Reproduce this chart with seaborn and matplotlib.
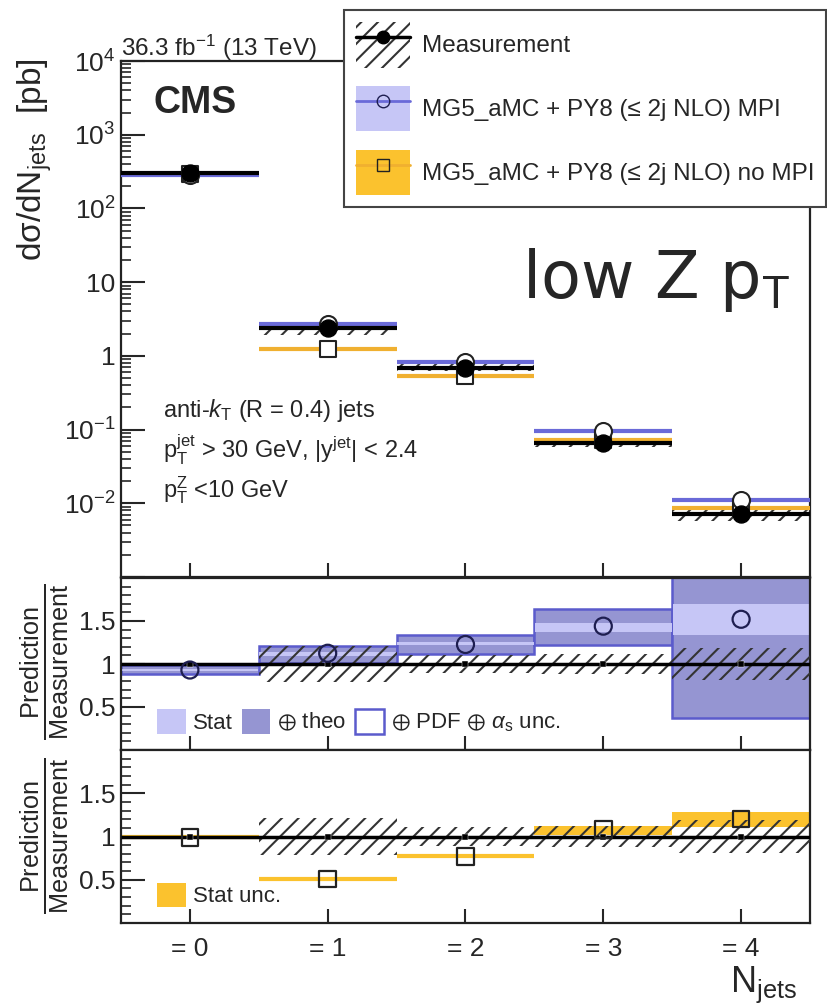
import numpy as np
import pandas as pd
import matplotlib
matplotlib.use("Agg")
import matplotlib.pyplot as plt
import seaborn as sns
from matplotlib.patches import Patch
from matplotlib.lines import Line2D
from matplotlib.legend_handler import HandlerTuple
from matplotlib.ticker import FixedLocator, MultipleLocator, LogLocator, NullFormatter, FuncFormatter

# ---------------- data ----------------
njets = [0, 1, 2, 3, 4]
njet_labels = ["= 0", "= 1", "= 2", "= 3", "= 4"]
meas = [300, 2.4, 0.69, 0.066, 0.0072]
mpi = [280, 2.68, 0.83, 0.095, 0.0110]
nompi = [294, 1.24, 0.53, 0.072, 0.0086]
meas_rel_unc = [0.01, 0.21, 0.11, 0.12, 0.19]

mpi_ratio = [0.93, 1.125, 1.227, 1.44, 1.52]
mpi_stat_lo = [0.915, 1.098, 1.216, 1.373, 1.341]
mpi_stat_hi = [0.945, 1.137, 1.255, 1.478, 1.694]
mpi_tot_lo = [0.88, 1.01, 1.118, 1.216, 0.373]
mpi_tot_hi = [0.99, 1.215, 1.333, 1.635, 2.05]

nompi_ratio = [0.99, 0.51, 0.77, 1.08, 1.20]
nompi_stat_lo = [0.982, 0.502, 0.760, 1.02, 1.11]
nompi_stat_hi = [0.998, 0.522, 0.782, 1.12, 1.286]

# ---------------- style ----------------
sns.set_theme(style="ticks")
plt.rcParams["font.family"] = ["Liberation Sans", "DejaVu Sans"]
plt.rcParams["mathtext.fontset"] = "custom"
plt.rcParams["mathtext.rm"] = "Liberation Sans"
plt.rcParams["mathtext.it"] = "Liberation Sans:italic"
plt.rcParams["mathtext.bf"] = "Liberation Sans:bold"
plt.rcParams["mathtext.fallback"] = "stixsans"
plt.rcParams["hatch.linewidth"] = 1.5
plt.rcParams["hatch.color"] = "#333333"

C_LIGHT = "#c6c6f6"
C_DARK = "#9595d2"
C_EDGE = "#5b5bcc"
C_BLUE_LINE = "#6a6ad8"
C_ORANGE = "#fbc22e"
C_ORANGE_LINE = "#f0b030"
HATCH = "//"

df = pd.DataFrame({
    "njets": njets, "meas": meas, "mpi": mpi, "nompi": nompi,
    "mpi_ratio": mpi_ratio, "nompi_ratio": nompi_ratio,
    "one": [1.0] * len(njets),
})
x = np.array(njets, dtype=float)

W, H = 828, 1006
fig = plt.figure(figsize=(W / 100, H / 100), dpi=100)
left = 121 / W
width = (810 - 121) / W
ax = fig.add_axes([left, 1 - 577 / H, width, (577 - 61) / H])
r1 = fig.add_axes([left, 1 - 750 / H, width, (750 - 578) / H])
r2 = fig.add_axes([left, 1 - 923 / H, width, (923 - 750) / H])

for a in (ax, r1, r2):
    a.set_xlim(-0.5, 4.5)
    for s in a.spines.values():
        s.set_linewidth(1.6)
        s.set_color("#222222")
    a.set_xticks(njets)
    a.tick_params(axis="x", which="major", direction="in", length=10, width=1.5, top=False)
    a.tick_params(axis="y", which="major", direction="in", length=17, width=1.5, right=False,
                  labelsize=19, pad=4)
    a.tick_params(axis="y", which="minor", direction="in", length=7, width=1.2, right=False)
    a.set_xlabel("")
    a.set_ylabel("")

# ---------------- main panel ----------------
ax.set_yscale("log")
ax.set_ylim(1e-3, 1e4)
ax.yaxis.set_major_locator(LogLocator(base=10, numticks=20))
ax.yaxis.set_minor_locator(LogLocator(base=10, subs=np.arange(2, 10), numticks=100))
ax.yaxis.set_minor_formatter(NullFormatter())


def logfmt(v, pos):
    if v < 5e-3:
        return ""
    e = int(round(np.log10(v)))
    if e == 0:
        return "1"
    if e == 1:
        return "10"
    return r"$10^{%d}$" % e


ax.yaxis.set_major_formatter(FuncFormatter(logfmt))
ax.tick_params(axis="x", labelbottom=False)

meas_a = np.array(meas)
u = np.array(meas_rel_unc)
ax.bar(x, 2 * u * meas_a, bottom=meas_a * (1 - u), width=1.0, fill=False, hatch=HATCH,
       linewidth=0, edgecolor="#333333", zorder=2)
mpi_a = np.array(mpi)
ax.bar(x, 0.06 * mpi_a, bottom=mpi_a * 0.97, width=1.0, color=C_LIGHT, linewidth=0, zorder=1)
nompi_a = np.array(nompi)
ax.bar(x, 0.06 * nompi_a, bottom=nompi_a * 0.97, width=1.0, color=C_ORANGE, linewidth=0, zorder=1)
ax.hlines(nompi, x - 0.5, x + 0.5, color=C_ORANGE_LINE, lw=3, zorder=3)
ax.hlines(mpi, x - 0.5, x + 0.5, color=C_BLUE_LINE, lw=3, zorder=3)
ax.hlines(meas, x - 0.5, x + 0.5, color="black", lw=3, zorder=4)
sns.scatterplot(data=df, x="njets", y="nompi", ax=ax, marker="s", s=140, facecolor="white",
                edgecolor="#222222", linewidth=1.5, zorder=5, legend=False)
sns.scatterplot(data=df, x="njets", y="mpi", ax=ax, marker="o", s=150, facecolor="white",
                edgecolor="#222222", linewidth=1.5, zorder=6, legend=False)
sns.scatterplot(data=df, x="njets", y="meas", ax=ax, marker="o", s=150, color="black",
                edgecolor="black", zorder=7, legend=False)
ax.set_xlabel("")
ax.set_ylabel("")

# ---------------- ratio panel 1 (MPI) ----------------
def ratio_axis(a):
    a.set_ylim(0, 2)
    a.yaxis.set_major_locator(FixedLocator([0.5, 1.0, 1.5]))
    a.yaxis.set_major_formatter(FuncFormatter(lambda v, p: "%g" % v))
    a.yaxis.set_minor_locator(MultipleLocator(0.1))


ratio_axis(r1)
r1.tick_params(axis="x", labelbottom=False)
tot_lo = np.array(mpi_tot_lo)
tot_hi = np.array(mpi_tot_hi)
r1.bar(x, tot_hi - tot_lo, bottom=tot_lo, width=1.0, color=C_DARK, edgecolor=C_EDGE,
       linewidth=1.8, zorder=1)
st_lo = np.array(mpi_stat_lo)
st_hi = np.array(mpi_stat_hi)
r1.bar(x, st_hi - st_lo, bottom=st_lo, width=0.99, color=C_LIGHT, linewidth=0, zorder=2)
r1.bar(x, 2 * u, bottom=1 - u, width=1.0, fill=False, hatch=HATCH, linewidth=0,
       edgecolor="#333333", zorder=3)
r1.hlines(1, -0.5, 4.5, color="black", lw=2.5, zorder=4)
sns.scatterplot(data=df, x="njets", y="one", ax=r1, marker="s", s=14, color="black",
                zorder=5, legend=False)
sns.scatterplot(data=df, x="njets", y="mpi_ratio", ax=r1, marker="o", s=150, facecolor="none",
                edgecolor="#1e1e50", linewidth=1.6, zorder=6, legend=False)
r1.set_xlabel("")
r1.set_ylabel("")
h_stat = Patch(facecolor=C_LIGHT, edgecolor="none")
h_theo = Patch(facecolor=C_DARK, edgecolor="none")
h_pdf = Patch(facecolor="white", edgecolor=C_EDGE, linewidth=1.8)
r1.legend([h_stat, h_theo, h_pdf],
          ["Stat", r"$\oplus$ theo", r"$\oplus$ PDF $\oplus$ $\alpha_{\rm s}$ unc."],
          loc="lower left", bbox_to_anchor=(0.03, 0.0), ncol=3, frameon=False, fontsize=16,
          handlelength=1.3, handleheight=1.3, columnspacing=0.4, handletextpad=0.3,
          borderaxespad=0.3)

# ---------------- ratio panel 2 (no MPI) ----------------
ratio_axis(r2)
n_lo = np.array(nompi_stat_lo)
n_hi = np.array(nompi_stat_hi)
r2.bar(x, n_hi - n_lo, bottom=n_lo, width=1.0, color=C_ORANGE, linewidth=0, zorder=1)
r2.hlines(nompi_ratio, x - 0.5, x + 0.5, color=C_ORANGE, lw=3, zorder=1)
r2.bar(x, 2 * u, bottom=1 - u, width=1.0, fill=False, hatch=HATCH, linewidth=0,
       edgecolor="#333333", zorder=3)
r2.hlines(1, -0.5, 4.5, color="black", lw=2.5, zorder=4)
sns.scatterplot(data=df, x="njets", y="one", ax=r2, marker="s", s=14, color="black",
                zorder=5, legend=False)
sns.scatterplot(data=df, x="njets", y="nompi_ratio", ax=r2, marker="s", s=140,
                facecolor="none", edgecolor="#222222", linewidth=1.6, zorder=6, legend=False)
r2.set_xlabel("")
r2.set_ylabel("")
r2.set_xticks(njets)
r2.set_xticklabels(njet_labels)
r2.tick_params(axis="x", labelsize=19, pad=10)
r2.legend([Patch(facecolor=C_ORANGE, edgecolor="none")], ["Stat unc."], loc="lower left",
          bbox_to_anchor=(0.03, 0.0), frameon=False, fontsize=16, handlelength=1.3,
          handleheight=1.3, handletextpad=0.3, borderaxespad=0.3)

# ---------------- texts ----------------
fig.text(121 / W, 1 - 56 / H, r"36.3 fb$^{-1}$ (13 TeV)", ha="left", va="baseline", fontsize=17.5)
fig.text(154 / W, 1 - 113 / H, "CMS", ha="left", va="baseline", fontsize=27, fontweight="bold")
fig.text(522 / W, 1 - 298 / H, r"low Z p$_{\rm T}$", ha="left", va="baseline", fontsize=47,
         family=["DejaVu Sans"])
fig.text(163 / W, 1 - 410 / H, r"anti-$k_{\rm T}$ (R = 0.4) jets", ha="left", va="center",
         fontsize=17)
fig.text(163 / W, 1 - 450 / H,
         r"$\mathrm{p}_{\mathrm{T}}^{\mathrm{jet}}$ > 30 GeV, |$\mathrm{y}^{\mathrm{jet}}$| < 2.4",
         ha="left", va="center", fontsize=17)
fig.text(163 / W, 1 - 490 / H, r"$\mathrm{p}_{\mathrm{T}}^{\mathrm{Z}}$ <10 GeV", ha="left",
         va="center", fontsize=17)
fig.text(35 / W, 1 - 160 / H, "dσ/dN$_{\\rm jets}$  [pb]", rotation=90, ha="center",
         va="center", fontsize=24)
for yc in (662, 836):
    fig.text(45 / W, 1 - yc / H, r"$\frac{\mathrm{Prediction}}{\mathrm{Measurement}}$",
             rotation=90, ha="center", va="center", fontsize=26)
fig.text(797 / W, 1 - 992 / H, r"N$_{\rm jets}$", ha="right", va="baseline", fontsize=26)

# ---------------- legend ----------------
h_meas = (Patch(facecolor="none", edgecolor="#333333", hatch=HATCH, linewidth=0),
          Line2D([], [], color="black", lw=2.5, marker="o", ms=9))
h_mpi = (Patch(facecolor=C_LIGHT, edgecolor="none"),
         Line2D([], [], color=C_BLUE_LINE, lw=2, marker="o", ms=9, mfc="none", mec="#1e1e50"))
h_nompi = (Patch(facecolor=C_ORANGE, edgecolor="none"),
           Line2D([], [], color=C_ORANGE_LINE, lw=2, marker="s", ms=8, mfc="none", mec="#222222"))
leg = fig.legend([h_meas, h_mpi, h_nompi],
                 ["Measurement", "MG5_aMC + PY8 (≤ 2j NLO) MPI",
                  "MG5_aMC + PY8 (≤ 2j NLO) no MPI"],
                 handler_map={tuple: HandlerTuple(ndivide=1)},
                 loc="upper left", bbox_to_anchor=(344 / W, 1 - 10 / H), fontsize=17.5,
                 handlelength=2.2, handleheight=2.5, labelspacing=0.75, handletextpad=0.5,
                 borderpad=0.5, borderaxespad=0, fancybox=False, framealpha=1,
                 edgecolor="#444444")
leg.get_frame().set_linewidth(1.5)

fig.savefig("out.png", dpi=100)
